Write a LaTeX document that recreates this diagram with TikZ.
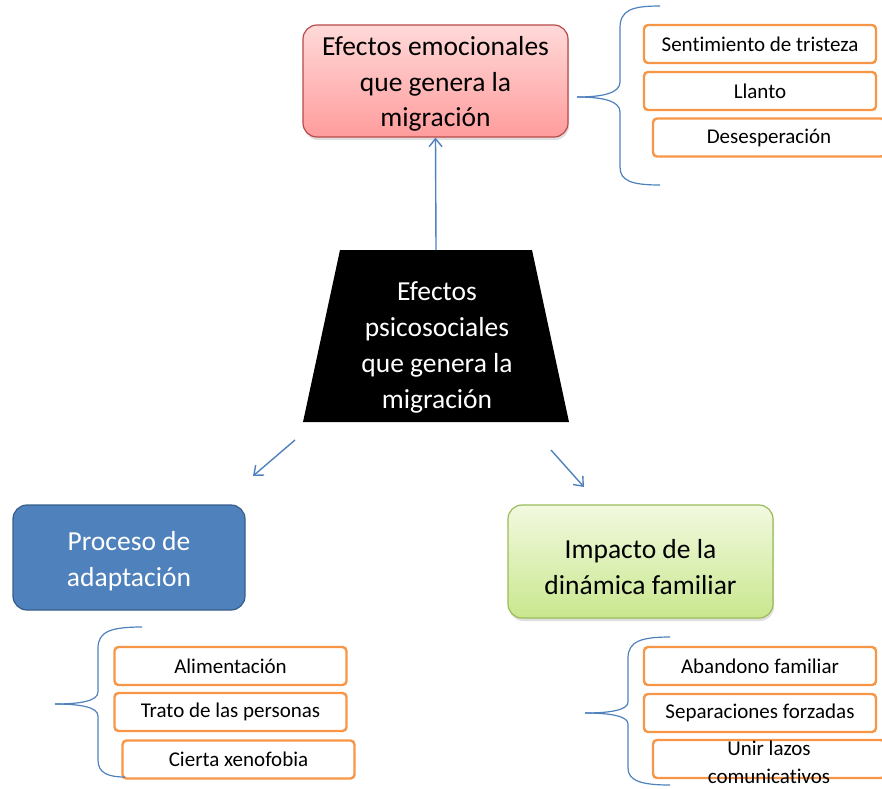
\documentclass[tikz,border=0pt]{standalone}
\usepackage{fontspec}
\setmainfont[Ligatures=NoCommon]{Carlito}
\usetikzlibrary{arrows.meta,shadows}
\definecolor{borange}{HTML}{F79646}
\definecolor{lblue}{HTML}{4F81BD}
\definecolor{dblue}{HTML}{385D8A}
\definecolor{redborder}{HTML}{B84A4A}
\definecolor{redtop}{HTML}{FFD9D9}
\definecolor{redbot}{HTML}{FF9C9C}
\definecolor{greenborder}{HTML}{9BBB59}
\definecolor{greentop}{HTML}{F2F9E0}
\definecolor{greenbot}{HTML}{C9E78E}
\begin{document}
\begin{tikzpicture}[x=1pt,y=-1pt,
  bigbox/.style={rounded corners=14pt, align=center, inner sep=0pt, line width=1.2pt},
  bigtext/.style={align=center, font=\fontsize{27.5}{36}\selectfont},
  obox/.style={draw=borange, line width=2.4pt, rounded corners=4pt,
    minimum width=232pt, minimum height=38pt, inner sep=0pt,
    font=\fontsize{21}{24}\selectfont},
  link/.style={draw=lblue, line width=1.4pt, -{Straight Barb[length=8pt,width=13pt]}},
  brace/.style={draw=lblue, line width=1.2pt},
  softshadow/.style={drop shadow={opacity=0.25, shadow xshift=1pt, shadow yshift=-3pt}}
]
\useasboundingbox (0,0) rectangle (882,788);

% main trapezoid
\fill[black] (340,250) -- (532,250) -- (569,422) -- (303,422) -- cycle;
\node[bigtext, text=white] (main) at (437,347)
  {Efectos\\psicosociales\\que genera la\\migración};
\coordinate (mtop) at (436,250);
\coordinate (ml) at (295,440);
\coordinate (mr) at (551,450);

% top red box
\node[bigbox, draw=redborder, top color=redtop, bottom color=redbot, softshadow,
  minimum width=265pt, minimum height=112pt] (emo) at (435.5,81) {};
\node[bigtext, font=\fontsize{27.5}{35.5}\selectfont] (emot) at (435.5,84)
  {Efectos emocionales\\que genera la\\migración};

% blue box
\node[bigbox, draw=dblue, fill=lblue, minimum width=232pt, minimum height=105pt]
  (ada) at (129,557.5) {};
\node[bigtext, text=white] (adat) at (129,561)
  {Proceso de\\adaptación};

% green box
\node[bigbox, draw=greenborder, top color=greentop, bottom color=greenbot, softshadow,
  minimum width=265pt, minimum height=113pt] (fam) at (640.5,561.5) {};
\node[bigtext] (famt) at (640.5,567)
  {Impacto de la\\dinámica familiar};

% arrows
\coordinate (lend) at (253,476);
\coordinate (rend) at (584,487);
\draw[link] (mtop) -- (emo.south);
\draw[link] (ml) -- (lend);
\draw[link] (mr) -- (rend);

% top-right list
\node[obox] (e1) at (760,44) {Sentimiento de tristeza};
\node[obox] (e2) at (760,91) {Llanto};
\node[obox] (e3) at (769,137.5) {Desesperación};
\draw[brace] (660,6) .. controls (632,6) and (620,10) .. (620,28) -- (620,82)
  .. controls (620,93) and (603,97) .. (577,97);
\draw[brace] (577,97) .. controls (603,97) and (620,101) .. (620,112) -- (620,167)
  .. controls (620,181) and (632,185) .. (660,185);

% bottom-left list
\node[obox] (a1) at (230.5,666) {Alimentación};
\node[obox] (a2) at (230.5,712) {Trato de las personas};
\node[obox] (a3) at (238.5,759.5) {Cierta xenofobia};
\draw[brace] (142,627) .. controls (112,627) and (98,631) .. (98,648) -- (98,692)
  .. controls (98,701) and (80,704) .. (55,704);
\draw[brace] (55,704) .. controls (80,704) and (98,707) .. (98,716) -- (98,760)
  .. controls (98,773) and (108,777) .. (125,777);

% bottom-right list
\node[obox] (f1) at (760,666) {Abandono familiar};
\node[obox] (f2) at (760,713) {Separaciones forzadas};
\node[obox] (f3) at (769,759) {};
\node[font=\fontsize{21}{28}\selectfont, align=center] (f3t) at (769,762)
  {Unir lazos\\comunicativos};
\draw[brace] (670,637) .. controls (642,637) and (628,641) .. (628,658) -- (628,702)
  .. controls (628,710) and (610,713) .. (585,713);
\draw[brace] (585,713) .. controls (610,713) and (628,716) .. (628,724) -- (628,768)
  .. controls (628,781) and (642,785) .. (670,785);
\end{tikzpicture}
\end{document}
